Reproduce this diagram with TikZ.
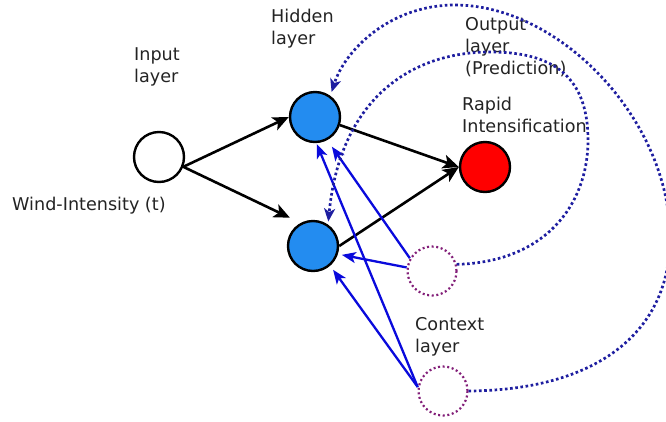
\documentclass[tikz,border=0pt]{standalone}
\usepackage{fontspec}
\setmainfont{DejaVu Sans}
\usetikzlibrary{arrows.meta}
\definecolor{hid}{RGB}{35,140,240}
\definecolor{blu}{RGB}{10,10,220}
\definecolor{navyc}{RGB}{30,30,160}
\definecolor{ctxc}{RGB}{130,30,120}
\definecolor{txt}{RGB}{35,35,35}
\begin{document}
\begin{tikzpicture}[x=1pt,y=-1pt,
  neuron/.style={circle, draw=black, line width=2.4pt, minimum size=50pt, inner sep=0pt},
  hidden/.style={neuron, fill=hid},
  outnode/.style={neuron, fill=red},
  innode/.style={neuron, fill=white},
  ctx/.style={circle, draw=ctxc, line width=2.2pt, dash pattern=on 2pt off 2.6pt, minimum size=49pt, inner sep=0pt},
  lbl/.style={inner sep=0pt, anchor=north west, align=left, font=\fontsize{17.6}{22}\selectfont, text=txt},
  blackarrow/.style={line width=2.6pt, -{Stealth[length=16pt,width=14pt,inset=4pt]}},
  bluearrow/.style={draw=blu, line width=2.3pt, -{Stealth[length=14pt,width=11pt,inset=3.5pt]}},
  recur/.style={draw=navyc, line width=2.7pt, dash pattern=on 2.6pt off 2.6pt, -{Stealth[length=13pt,width=11pt,inset=3.5pt]}}
]
\useasboundingbox (0,0) rectangle (666,421);

\node[lbl] (linput) at (134,47) {Input\\layer};
\node[lbl] (lhidden) at (271,9) {Hidden\\layer};
\node[lbl] (loutput) at (465,17) {Output\\layer\\(Prediction)};
\node[lbl] (lrapid) at (462,97) {Rapid\\Intensification};
\node[lbl] (lwind) at (12,197) {Wind-Intensity (t)};
\node[lbl] (lctx) at (415,317) {Context\\layer};

\node[innode] (in) at (159,157) {};
\node[hidden] (h1) at (315,117) {};
\node[hidden] (h2) at (313,246) {};
\node[outnode] (out) at (485,167) {};
\node[ctx] (c1) at (432,271) {};
\node[ctx] (c2) at (443,391) {};

\draw[blackarrow] (in.-22) -- (h1.west);
\draw[blackarrow, shorten >=12pt] (in.-22) -- (h2.118);
\draw[blackarrow] (h1.-18) -- (out.west);
\draw[blackarrow] (h2.east) -- (out.west);

\draw[bluearrow, shorten >=8pt] (c1.150) -- (h1.-62);
\draw[bluearrow, shorten >=4pt] (c1.172) -- (h2.-18);
\draw[bluearrow, shorten >=1pt] (c2.171) -- (h1.-87);
\draw[bluearrow, shorten >=5pt] (c2.171) -- (h2.-49);

\draw[recur, shorten >=4pt] (c2.east) .. controls (600,390) and (670,330) .. (670,238) .. controls (670,120) and (560,5) .. (455,5) .. controls (390,5) and (345,50) .. (h1.54);
\draw[recur, shorten >=3pt] (c1.15) .. controls (545,262) and (588,205) .. (588,140) .. controls (588,70) and (545,52) .. (490,52) .. controls (410,52) and (340,100) .. (h2.55);
\end{tikzpicture}
\end{document}
